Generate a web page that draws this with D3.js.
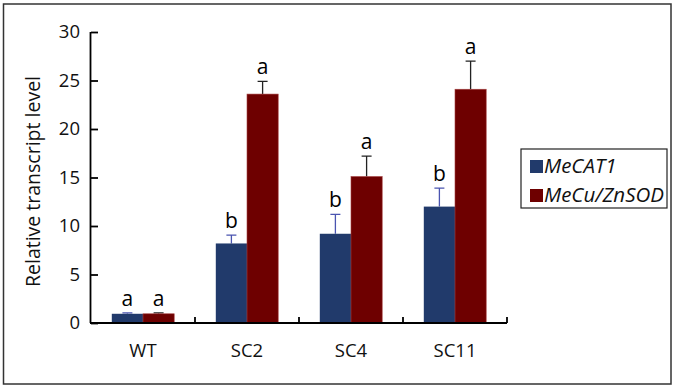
<!DOCTYPE html>
<html>
<head>
<meta charset="utf-8">
<script src="https://cdn.jsdelivr.net/npm/d3@7"></script>
<style>
  body { margin: 0; background: #fff; }
  svg text { font-family: "Open Sans", "Noto Sans", sans-serif; }
</style>
</head>
<body>
<div id="chart"></div>
<script>
const width = 675;
const height = 389;

const categories = ["WT", "SC2", "SC4", "SC11"];
const seriesNames = ["MeCAT1", "MeCu/ZnSOD"];
const catValues = [0.95, 8.2, 9.2, 12.0];
const catErrors = [0.1, 0.85, 2.0, 1.9];
const catLetters = ["a", "b", "b", "b"];
const sodValues = [0.95, 23.6, 15.1, 24.1];
const sodErrors = [0.1, 1.3, 2.1, 2.9];
const sodLetters = ["a", "a", "a", "a"];
const yTicks = [0, 5, 10, 15, 20, 25, 30];

const colors = ["#213a6b", "#6e0000"];
const errColors = ["#4a54b0", "#222"];

const margin = {left: 91, right: 168, top: 32, bottom: 66};

const svg = d3.select("#chart").append("svg")
    .attr("width", width)
    .attr("height", height);

// outer frame
svg.append("rect")
    .attr("x", 3.5).attr("y", 4)
    .attr("width", 667.5).attr("height", 380)
    .attr("fill", "none")
    .attr("stroke", "#333")
    .attr("stroke-width", 1.5);

const x = d3.scaleBand()
    .domain(categories)
    .range([margin.left, width - margin.right])
    .paddingInner(0)
    .paddingOuter(0);

const inner = d3.scaleBand()
    .domain(seriesNames)
    .range([x.bandwidth() * 0.2, x.bandwidth() * 0.8]);

const y = d3.scaleLinear()
    .domain([0, 30])
    .range([height - margin.bottom, margin.top]);

const series = [
    {name: seriesNames[0], values: catValues, errors: catErrors, letters: catLetters},
    {name: seriesNames[1], values: sodValues, errors: sodErrors, letters: sodLetters}
];

const groups = svg.selectAll(".series")
    .data(series)
    .enter().append("g")
    .attr("class", "series");

groups.each(function(s, si) {
    const g = d3.select(this);
    const items = categories.map((c, i) => ({cat: c, v: s.values[i], e: s.errors[i], l: s.letters[i]}));
    const bx = d => x(d.cat) + inner(s.name);
    const bw = inner.bandwidth();

    // error whisker
    g.selectAll(".err")
        .data(items)
        .enter().append("path")
        .attr("d", d => {
            const cx = bx(d) + bw / 2;
            const yt = y(d.v + d.e);
            return `M${cx},${y(d.v)}V${yt}M${cx - 5},${yt}H${cx + 5}`;
        })
        .attr("fill", "none")
        .attr("stroke", errColors[si])
        .attr("stroke-width", 1.3);

    g.selectAll(".bar")
        .data(items)
        .enter().append("rect")
        .attr("x", bx)
        .attr("y", d => y(d.v))
        .attr("width", bw)
        .attr("height", d => y(0) - y(d.v))
        .attr("fill", colors[si])
        .attr("stroke", si === 1 ? "#a54040" : "none")
        .attr("stroke-width", 0.6);

    g.selectAll(".letter")
        .data(items)
        .enter().append("text")
        .attr("x", d => bx(d) + bw / 2)
        .attr("y", d => y(d.v + d.e) - 7)
        .attr("text-anchor", "middle")
        .attr("font-size", 21)
        .attr("fill", "#000")
        .text(d => d.l);
});

// y axis
const yAxis = svg.append("g")
    .attr("transform", `translate(${margin.left},0)`)
    .call(d3.axisLeft(y).tickValues(yTicks).tickSize(-7).tickPadding(11));
yAxis.attr("font-family", null);
yAxis.select(".domain").attr("d", `M-0.5,${y(30)}V${y(0)}`).attr("stroke", "#000").attr("stroke-width", 1.8);
yAxis.selectAll(".tick line").attr("stroke", "#000").attr("stroke-width", 1.8);
yAxis.selectAll(".tick text").attr("font-size", 18.5).attr("fill", "#111");

// x axis
const xAxis = svg.append("g")
    .attr("transform", `translate(0,${y(0)})`)
    .call(d3.axisBottom(x).tickSize(0).tickPadding(21));
xAxis.attr("font-family", null);
xAxis.select(".domain").attr("d", `M${margin.left - 1},0H${width - margin.right}`).attr("stroke", "#000").attr("stroke-width", 1.8);
xAxis.selectAll(".tick text").attr("font-size", 18.5).attr("fill", "#111");

// category boundary ticks pointing up
xAxis.selectAll(".sep")
    .data(categories.slice(1).concat(["end"]))
    .enter().append("line")
    .attr("x1", d => d === "end" ? width - margin.right : x(d))
    .attr("x2", d => d === "end" ? width - margin.right : x(d))
    .attr("y1", 0).attr("y2", -6)
    .attr("stroke", "#000")
    .attr("stroke-width", 1.8);

// y title
svg.append("text")
    .attr("transform", `translate(40,${(y(0) + y(30)) / 2 + 4}) rotate(-90)`)
    .attr("text-anchor", "middle")
    .attr("font-size", 19.5)
    .attr("fill", "#111")
    .text("Relative transcript level");

// legend
const legend = svg.append("g").attr("transform", "translate(521,149)");
legend.append("rect")
    .attr("width", 146).attr("height", 59)
    .attr("fill", "#fff")
    .attr("stroke", "#222")
    .attr("stroke-width", 1.2);
const li = legend.selectAll(".item")
    .data(seriesNames)
    .enter().append("g")
    .attr("transform", (d, i) => `translate(9,${11 + i * 29})`);
li.append("rect")
    .attr("width", 13).attr("height", 13)
    .attr("fill", (d, i) => colors[i]);
li.append("text")
    .attr("x", 14).attr("y", 13)
    .attr("font-size", 20.5)
    .attr("font-style", "italic")
    .attr("fill", "#111")
    .text(d => d);
</script>
</body>
</html>
